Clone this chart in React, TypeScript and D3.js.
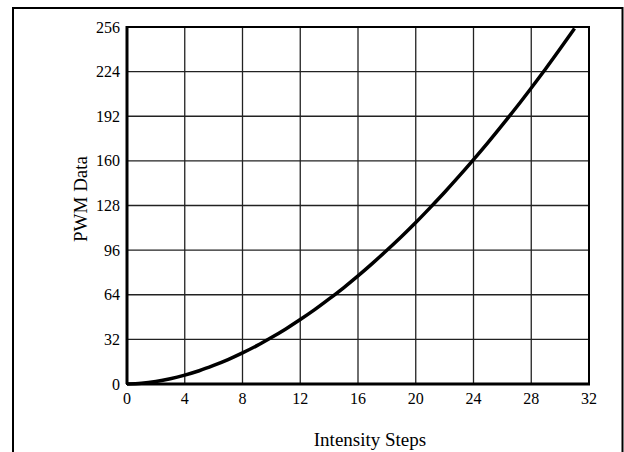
import React from "react";
import * as d3 from "d3";

const width = 624;
const height = 452;

// intensity step -> PWM value
const steps = d3.range(0, 32);
const pwm = [
  0, 0.5, 1.8, 3.8, 6.4, 9.5, 13.3, 17.5, 22.3, 27.5, 33.3, 39.5, 46.2, 53.3, 61, 69,
  77.5, 86.5, 95.9, 105.6, 115.8, 126.5, 137.5, 149, 160.9, 173.1, 185.8, 198.8, 212.3, 226.1, 240.4, 255,
];
const xTicks = [0, 4, 8, 12, 16, 20, 24, 28, 32];
const yTicks = [0, 32, 64, 96, 128, 160, 192, 224, 256];

const plot = { left: 127, right: 589, top: 27, bottom: 384 };

const App = () => {
  const x = d3.scaleLinear().domain([0, 32]).range([plot.left, plot.right]);
  const y = d3.scaleLinear().domain([0, 256]).range([plot.bottom, plot.top]);

  const line = d3
    .line<number>()
    .x((d, i) => x(steps[i]))
    .y((d) => y(d))
    .curve(d3.curveMonotoneX);

  const font = "'Liberation Serif', 'Times New Roman', serif";

  return (
    <svg
      width={width}
      height={height}
      style={{ position: "absolute", left: 0, top: 0, background: "#fff" }}
    >
      {/* outer frame */}
      <rect x={13} y={8} width={609.5} height={470} fill="none" stroke="#000" strokeWidth={2} />

      {/* grid */}
      {xTicks.map((t) => (
        <line key={"gx" + t} x1={x(t)} x2={x(t)} y1={plot.top} y2={plot.bottom} stroke="#222" strokeWidth={1.3} />
      ))}
      {yTicks.map((t) => (
        <line key={"gy" + t} x1={plot.left} x2={plot.right} y1={y(t)} y2={y(t)} stroke="#222" strokeWidth={1.3} />
      ))}

      {/* plot border */}
      <rect
        x={plot.left}
        y={plot.top}
        width={plot.right - plot.left}
        height={plot.bottom - plot.top}
        fill="none"
        stroke="#000"
        strokeWidth={2}
      />
      <line x1={plot.left} x2={plot.right + 1} y1={plot.bottom} y2={plot.bottom} stroke="#000" strokeWidth={3} />
      <line x1={plot.left} x2={plot.left} y1={plot.top - 1} y2={plot.bottom} stroke="#000" strokeWidth={3} />

      {/* curve */}
      <path d={line(pwm) || ""} fill="none" stroke="#000" strokeWidth={3.5} strokeLinejoin="round" />

      {/* tick labels */}
      {xTicks.map((t) => (
        <text key={"tx" + t} x={x(t)} y={403.5} textAnchor="middle" fontFamily={font} fontSize={16} fill="#000">
          {t}
        </text>
      ))}
      {yTicks.map((t) => (
        <text key={"ty" + t} x={120} y={y(t)} dy="0.35em" textAnchor="end" fontFamily={font} fontSize={16} fill="#000">
          {t}
        </text>
      ))}

      {/* axis titles */}
      <text x={370} y={445.5} textAnchor="middle" fontFamily={font} fontSize={19} fill="#000">
        Intensity Steps
      </text>
      <text
        transform="translate(86.5,199) rotate(-90)"
        textAnchor="middle"
        fontFamily={font}
        fontSize={19}
        fill="#000"
      >
        PWM Data
      </text>
    </svg>
  );
};

export default App;
